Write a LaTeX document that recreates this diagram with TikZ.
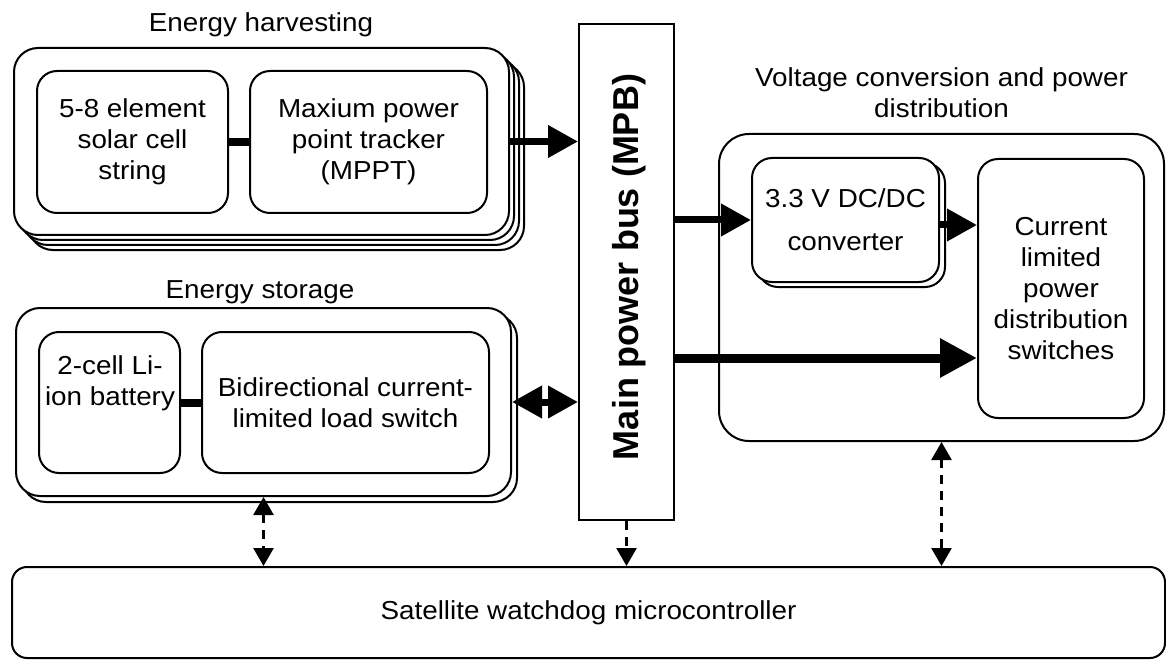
\documentclass[tikz,border=0pt]{standalone}
\usepackage{fontspec}
\setmainfont{Liberation Sans}[FakeStretch=1.07]
\newfontfamily\mpbfont{Liberation Sans}
\usetikzlibrary{arrows.meta,calc}
\begin{document}
\begin{tikzpicture}[x=1pt,y=-1pt,
  box/.style={draw, line width=2pt, rounded corners=#1, fill=white, inner sep=0pt},
  box/.default=20pt,
  txt/.style={font=\fontsize{26}{31}\selectfont, align=center, inner sep=0pt},
  link/.style={line width=8pt},
  thickarrow/.style={line width=7pt, -{Triangle[length=30pt,width=31pt]}},
  bigarrow/.style={line width=9pt, -{Triangle[length=37pt,width=37pt]}},
  dblarrow/.style={line width=7pt, {Triangle[length=30pt,width=31pt]}-{Triangle[length=30pt,width=31pt]}},
  ctrlboth/.style={line width=2.5pt, dash pattern=on 9pt off 7pt, {Triangle[length=18pt,width=20pt]}-{Triangle[length=18pt,width=20pt]}},
  ctrlone/.style={line width=2.5pt, dash pattern=on 9pt off 7pt, -{Triangle[length=18pt,width=20pt]}}
]
\useasboundingbox (0,0) rectangle (1166,660);

% Energy harvesting (stacked)
\node[box=24pt, minimum width=495pt, minimum height=187pt] (eh3) at (276.5,156.5) {};
\node[box=24pt, minimum width=495pt, minimum height=187pt] (eh2) at (271.5,151.5) {};
\node[box=24pt, minimum width=495pt, minimum height=187pt] (eh1) at (266.5,146.5) {};
\node[box=24pt, minimum width=495pt, minimum height=187pt] (eh) at (261.5,141.5) {};
\node[txt, anchor=base] (teh) at (261,32) {Energy harvesting};
\node[box, txt, minimum width=191pt, minimum height=142pt] (solar) at (132.5,142) {5-8 element\\solar cell\\string};
\node[box, txt, minimum width=237pt, minimum height=142pt] (mppt) at (368.5,142) {Maxium power\\point tracker\\(MPPT)};
\draw[link] (solar.east) -- (mppt.west);

% Energy storage
\node[box=24pt, minimum width=495pt, minimum height=188pt] (es1) at (269.5,408) {};
\node[box=24pt, minimum width=495pt, minimum height=188pt] (es) at (263.5,402) {};
\node[txt, anchor=base] (tes) at (260,298) {Energy storage};
\node[box, minimum width=141pt, minimum height=141pt] (bat) at (109.5,402.5) {};
\node[txt] (tbat) at (110,383) {2-cell Li-\\ion battery};
\node[box, txt, minimum width=287pt, minimum height=141pt] (lsw) at (345.5,402.5) {Bidirectional current-\\limited load switch};
\draw[link] (bat.east) -- (lsw.west);

% Main power bus
\node[draw, line width=2pt, fill=white, minimum width=95pt, minimum height=496pt, inner sep=0pt] (mpb) at (626.5,272) {};
\node[rotate=90, anchor=base, inner sep=0pt, font=\mpbfont\bfseries\fontsize{36}{40}\selectfont] (mpbl) at (638.5,267) {Main power bus (MPB)};

% Voltage conversion
\node[box=30pt, minimum width=445pt, minimum height=307pt] (vc) at (941.5,287.5) {};
\node[txt] (tvc) at (941.5,93) {Voltage conversion and power\\distribution};
\node[box, minimum width=187pt, minimum height=124pt] (dc1) at (851.5,225) {};
\node[box, txt, minimum width=187pt, minimum height=124pt] (dc) at (845.5,220) {3.3 V DC/DC\\[12pt]converter};
\node[box, txt, minimum width=166pt, minimum height=259pt] (cl) at (1061,288.5) {Current\\limited\\power\\distribution\\switches};

% Watchdog
\node[box=15pt, txt, minimum width=1153pt, minimum height=91pt] (wd) at (588.5,612.5) {Satellite watchdog microcontroller};

% Power connectors
\draw[thickarrow] (eh.east) -- (eh.east -| mpb.west);
\draw[dblarrow] (es.east) -- (es.east -| mpb.west);
\draw[thickarrow] (dc.west -| mpb.east) -- (dc.west);
\coordinate (dcout) at ($(dc.east)+(0,5)$);
\draw[thickarrow] (dcout) -- (dcout -| cl.west);
\coordinate (clin) at ($(cl.west)+(0,69.5)$);
\draw[bigarrow] (clin -| mpb.east) -- (clin);

% Control connectors
\draw[ctrlboth] (es.south) -- (es.south |- wd.north);
\draw[ctrlone] (mpb.south) -- (mpb.south |- wd.north);
\draw[ctrlboth] (vc.south) -- (vc.south |- wd.north);
\end{tikzpicture}
\end{document}
